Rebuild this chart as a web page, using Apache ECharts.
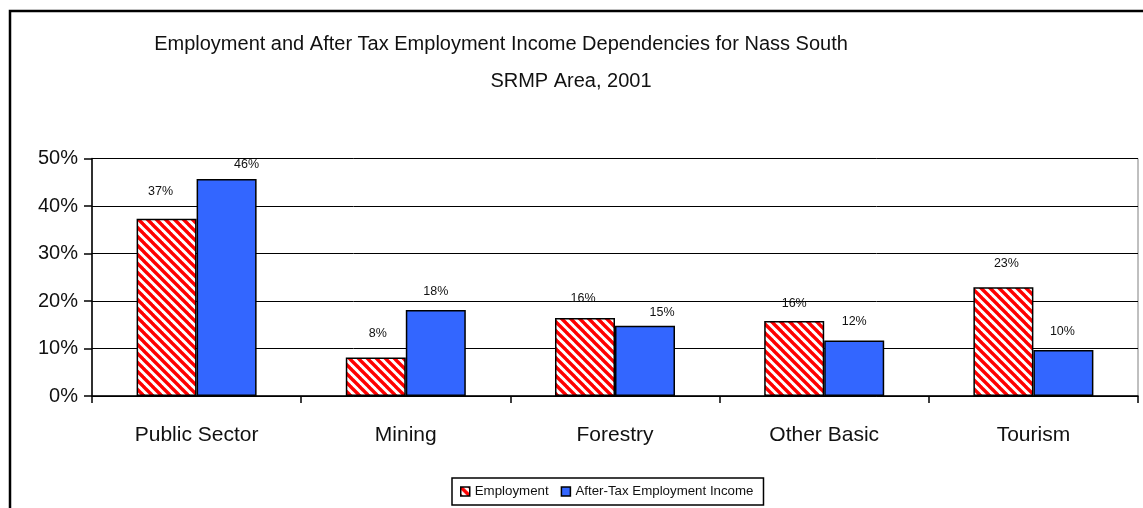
<!DOCTYPE html>
<html>
<head>
<meta charset="utf-8">
<script src="https://cdn.jsdelivr.net/npm/echarts@6/dist/echarts.min.js"></script>
<style>
  html, body { margin: 0; padding: 0; background: #fff; }
  #chart { width: 1143px; height: 508px; }
</style>
</head>
<body>
<div id="chart"></div>
<script>
// Employment vs after-tax income dependencies by sector (shares of total)
const categories = ['Public Sector', 'Mining', 'Forestry', 'Other Basic', 'Tourism'];
const employment = [0.373, 0.081, 0.164, 0.158, 0.229];
const afterTaxIncome = [0.457, 0.181, 0.148, 0.117, 0.097];
const yTicks = [0, 0.1, 0.2, 0.3, 0.4, 0.5];
const seriesNames = ['Employment', 'After-Tax Employment Income'];
const titleLines = [
  'Employment and After Tax Employment Income Dependencies for Nass South',
  'SRMP Area, 2001'
];

// Hand-placed value labels (pixel nudges per bar)
const empLabelNudge = [[-6, -9], [2, -5], [-2, -1], [0, 1], [3, -5]];
const incLabelNudge = [[20, 4], [0, 0], [17, 5], [0, 0], [-1, 0]];

const FONT = '"Liberation Sans", Arial, sans-serif';

// Red diagonal hatch tile for the employment bars
function hatchTile() {
  const s = 9;
  const c = document.createElement('canvas');
  c.width = s; c.height = s;
  const g = c.getContext('2d');
  g.fillStyle = '#ffffff';
  g.fillRect(0, 0, s, s);
  g.strokeStyle = '#ff0000';
  g.lineWidth = 3.4;
  for (let k = -1; k <= 1; k++) {
    g.beginPath();
    g.moveTo(k * s - 1, -1);
    g.lineTo(k * s + s + 1, s + 1);
    g.stroke();
  }
  return c;
}

const pct = v => Math.round(v * 100) + '%';

function withLabels(values, nudges) {
  return values.map((v, i) => ({
    value: v,
    label: { offset: nudges[i] }
  }));
}

const chart = echarts.init(document.getElementById('chart'), null, { renderer: 'canvas' });

const labelStyle = {
  show: true,
  position: 'top',
  distance: 12,
  formatter: p => pct(p.value),
  fontFamily: FONT,
  fontSize: 12.5,
  color: '#111'
};

chart.setOption({
  animation: false,
  backgroundColor: '#ffffff',
  textStyle: { fontFamily: FONT, color: '#111' },
  graphic: [
    {
      type: 'rect',
      z: -10,
      shape: { x: 10, y: 11, width: 1200, height: 600 },
      style: { fill: 'none', stroke: '#000', lineWidth: 2.5 }
    },
    {
      type: 'text',
      x: 501, y: 44,
      style: {
        text: titleLines[0],
        font: '20px ' + FONT,
        fill: '#111',
        align: 'center',
        verticalAlign: 'middle'
      }
    },
    {
      type: 'text',
      x: 571, y: 81.5,
      style: {
        text: titleLines[1],
        font: '20px ' + FONT,
        fill: '#111',
        align: 'center',
        verticalAlign: 'middle'
      }
    }
  ],
  legend: {
    data: seriesNames,
    left: 452,
    top: 478,
    orient: 'horizontal',
    icon: 'rect',
    padding: [7, 10, 7, 8],
    itemGap: 12,
    itemWidth: 9,
    itemHeight: 9,
    borderColor: '#000',
    borderWidth: 1.5,
    backgroundColor: '#fff',
    textStyle: { fontFamily: FONT, fontSize: 13.3, color: '#111' },
    itemStyle: { borderColor: '#000', borderWidth: 1.5 }
  },
  grid: {
    left: 92,
    right: 5,
    top: 158.5,
    bottom: 112,
    show: true,
    borderColor: '#808080',
    borderWidth: 1,
    backgroundColor: 'transparent'
  },
  xAxis: {
    type: 'category',
    data: categories,
    axisLine: { lineStyle: { color: '#000', width: 1.5 } },
    axisTick: { show: true, length: 7, lineStyle: { color: '#000', width: 1.5 } },
    axisLabel: {
      margin: 29,
      fontFamily: FONT,
      fontSize: 21,
      color: '#111'
    }
  },
  yAxis: {
    type: 'value',
    min: yTicks[0],
    max: yTicks[yTicks.length - 1],
    interval: yTicks[1] - yTicks[0],
    axisLine: { show: true, lineStyle: { color: '#000', width: 1.5 } },
    axisTick: { show: true, length: 8, lineStyle: { color: '#000', width: 1.5 } },
    splitLine: { show: true, lineStyle: { color: '#000', width: 1 } },
    axisLabel: {
      margin: 14,
      fontFamily: FONT,
      fontSize: 20,
      color: '#111',
      formatter: v => pct(v)
    }
  },
  series: [
    {
      name: seriesNames[0],
      type: 'bar',
      barWidth: 60,
      barGap: '0%',
      data: withLabels(employment, empLabelNudge),
      itemStyle: {
        color: { image: hatchTile(), repeat: 'repeat' },
        borderColor: '#000',
        borderWidth: 1.5
      },
      label: labelStyle
    },
    {
      name: seriesNames[1],
      type: 'bar',
      barWidth: 60,
      barGap: '0%',
      data: withLabels(afterTaxIncome, incLabelNudge),
      itemStyle: {
        color: '#3366ff',
        borderColor: '#000',
        borderWidth: 1.5
      },
      label: labelStyle
    }
  ]
});
</script>
</body>
</html>
